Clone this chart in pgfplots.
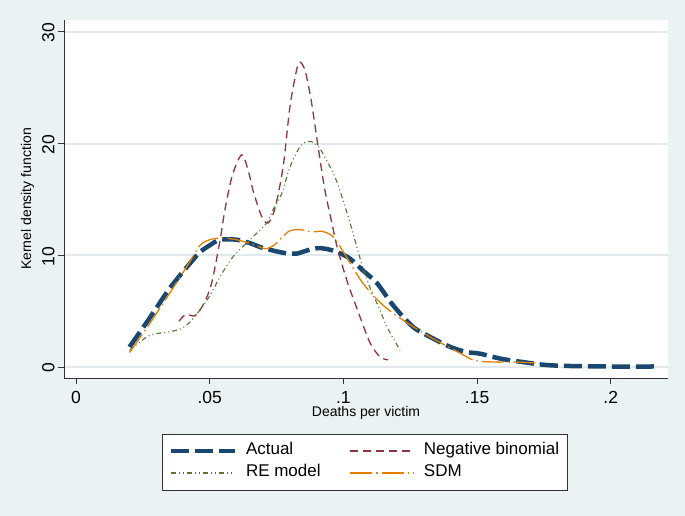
\documentclass[border=0pt]{standalone}
\usepackage{pgfplots}
\pgfplotsset{compat=1.18}
\usepackage{fontspec}
\setmainfont{Liberation Sans}
\definecolor{stbg}{RGB}{234,242,243}
\definecolor{stgrid}{RGB}{226,233,236}
\definecolor{stnavy}{RGB}{26,71,111}
\definecolor{stmaroon}{RGB}{144,53,59}
\definecolor{stgreen}{RGB}{85,117,47}
\definecolor{storange}{RGB}{227,126,0}

\begin{document}
\begin{tikzpicture}[x=1pt,y=1pt]
\fill[stbg] (0,0) rectangle (685,516);
\begin{axis}[
  at={(64pt,138pt)}, anchor=south west,
  scale only axis, width=604pt, height=358pt,
  xmin=-0.0045, xmax=0.2214, ymin=-0.98, ymax=31.07,
  axis x line*=bottom, axis y line*=left,
  axis line style={black!80, line width=0.9pt, -},
  axis background/.style={fill=white},
  tick align=outside, major tick length=6pt,
  tick style={black!80, line width=0.9pt},
  xtick={0,0.05,0.1,0.15,0.2}, xticklabels={0,.05,.1,.15,.2},
  ytick={0,10,20,30}, yticklabels={0,10,20,30},
  ymajorgrids, major grid style={stgrid, line width=2pt},
  ticklabel style={font=\fontsize{17.5}{19}\selectfont},
  xticklabel style={yshift=-4pt},
  yticklabel style={rotate=90, anchor=south, xshift=-1pt},
  xlabel={Deaths per victim},
  ylabel={Kernel density function},
  label style={font=\fontsize{14}{16}\selectfont},
  xlabel style={at={(axis description cs:0.5,0)}, anchor=center, yshift=-35pt},
  ylabel style={at={(axis description cs:-0.0604,0.5)}, anchor=center},
  legend columns=2,
  legend cell align=left,
  legend image code/.code={\draw[#1] (0pt,0pt) -- (64pt,0pt);},
  legend style={at={(0.498,-0.2346)}, anchor=center, draw=black!80, fill=white,
    font=\fontsize{17}{20}\selectfont, inner xsep=6pt, inner ysep=6pt,
    nodes={text height=13pt, text depth=5pt},
    /tikz/every even column/.append style={column sep=27pt},
    /tikz/every odd column/.append style={column sep=7pt}},
]
\addplot[stnavy, line width=4.5pt, dash pattern=on 18pt off 6pt, smooth] coordinates {
(0.020,1.8) (0.027,4.2) (0.0352,7.1) (0.0434,9.5) (0.0464,10.3) (0.050,10.9) (0.0539,11.4)
(0.060,11.4) (0.065,11.1) (0.0694,10.7) (0.076,10.3) (0.080,10.15) (0.0825,10.15)
(0.088,10.55) (0.0912,10.65) (0.095,10.5) (0.0985,10.2) (0.1025,9.7) (0.1075,8.6)
(0.1126,7.5) (0.1185,5.55) (0.126,3.6) (0.1324,2.7) (0.140,1.8) (0.146,1.35)
(0.151,1.2) (0.159,0.74) (0.167,0.45) (0.175,0.2) (0.1835,0.1) (0.200,0.05) (0.2165,0.05)};
\addplot[stmaroon, line width=1.3pt, dash pattern=on 8pt off 5pt, smooth] coordinates {
(0.0385,4.1) (0.041,4.7) (0.0445,4.6) (0.0476,5.6) (0.0507,7.5) (0.0539,11.4)
(0.0557,14.1) (0.0585,17.2) (0.062,19.0) (0.0645,17.5) (0.0662,15.8) (0.0694,13.5)
(0.0719,12.9) (0.0745,14.3) (0.0775,18.0) (0.080,23.3) (0.0825,26.6) (0.0838,27.3)
(0.0857,26.5) (0.088,23.8) (0.0906,19.6) (0.0931,15.8) (0.0956,13.0) (0.0978,10.6)
(0.1015,7.6) (0.1062,4.5) (0.110,2.15) (0.1137,0.9) (0.1167,0.65)};
\addplot[stgreen, line width=1.1pt, dash pattern=on 5pt off 3pt on 1pt off 3pt on 1pt off 3pt, smooth] coordinates {
(0.020,1.5) (0.0265,2.7) (0.030,3.0) (0.0336,3.1) (0.039,3.4) (0.0425,4.0) (0.046,5.0)
(0.049,6.0) (0.0513,6.9) (0.0539,8.1) (0.0588,9.9) (0.0651,11.4) (0.0713,12.9)
(0.0737,14.1) (0.0769,15.5) (0.080,17.9) (0.084,19.8) (0.0874,20.2) (0.0905,19.8)
(0.0935,18.6) (0.0965,17.2) (0.0987,15.8) (0.1025,12.9) (0.1045,11.2) (0.1075,8.7)
(0.1105,6.8) (0.1135,5.2) (0.1163,3.6) (0.1212,1.5)};
\addplot[storange, line width=1.3pt, dash pattern=on 22pt off 4pt on 1.5pt off 4pt, smooth] coordinates {
(0.020,1.3) (0.027,3.7) (0.035,6.6) (0.0417,9.1) (0.0464,10.9) (0.050,11.4) (0.0546,11.55)
(0.060,11.4) (0.066,11.0) (0.0707,10.6) (0.074,10.9) (0.077,11.6) (0.080,12.2)
(0.084,12.3) (0.088,12.1) (0.092,12.15) (0.0955,11.8) (0.0976,11.2) (0.1005,10.1)
(0.1073,7.5) (0.1148,5.55) (0.1223,4.2) (0.1324,2.7) (0.1436,1.25) (0.149,0.6)
(0.156,0.45) (0.164,0.45) (0.1705,0.38) (0.1735,0.3)};
\legend{Actual, Negative binomial, RE model, SDM}
\end{axis}
\end{tikzpicture}
\end{document}
